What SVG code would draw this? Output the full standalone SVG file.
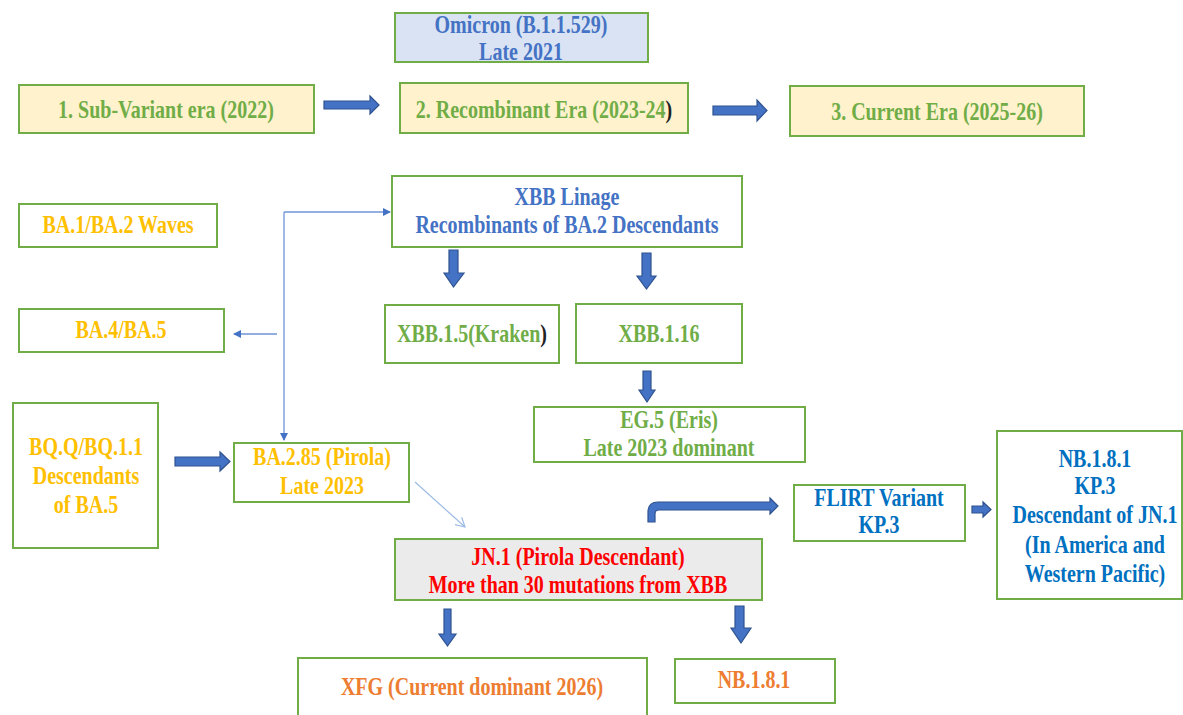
<svg xmlns="http://www.w3.org/2000/svg" width="1183" height="715" viewBox="0 0 1183 715">
<style>
.box{fill:#ffffff;stroke:#70ad47;stroke-width:2}
.era{fill:#fff2cc;stroke:#70ad47;stroke-width:2}
.t{font-family:"Liberation Serif","Times New Roman",serif;font-weight:bold;font-size:25px;text-anchor:middle}
.blue{fill:#4472c4}.green{fill:#70ad47}.orange{fill:#ffc000}.red{fill:#ff0000}.dblue{fill:#0070c0}.xfg{fill:#ed7d31}.blk{fill:#222222}
.barrow{fill:#4472c4;stroke:#2f528f;stroke-width:1.2}
.thin{fill:none;stroke:#6f94d6;stroke-width:1.3}
.thin2{fill:none;stroke:#9dbbe6;stroke-width:1.2}
</style>
<defs>
<marker id="ah" markerWidth="10" markerHeight="10" refX="8" refY="5" orient="auto" markerUnits="userSpaceOnUse">
<path d="M1,1 L9,5 L1,9 Z" fill="#4472c4"/>
</marker>
<marker id="ah2" markerWidth="12" markerHeight="12" refX="10" refY="6" orient="auto" markerUnits="userSpaceOnUse">
<path d="M1,1 L10,6 L1,11" fill="none" stroke="#9dbbe6" stroke-width="1.2"/>
</marker>
</defs>
<rect width="1183" height="715" fill="#ffffff"/>

<g id="omicron">
<rect x="395" y="13" width="253" height="49" fill="#dae3f3" stroke="#70ad47" stroke-width="2"/>
<text class="t blue" transform="translate(521,0) scale(0.8,1)" x="0" y="33">Omicron (B.1.1.529)</text>
<text class="t blue" transform="translate(521,0) scale(0.8,1)" x="0" y="60">Late 2021</text>
</g>

<g id="era1">
<rect class="era" x="19" y="85" width="295" height="48"/>
<text class="t green" transform="translate(166,0) scale(0.8,1)" x="0" y="118">1. Sub-Variant era (2022)</text>
</g>
<g id="era2">
<rect class="era" x="400" y="83" width="288" height="50"/>
<text class="t green" transform="translate(544,0) scale(0.8,1)" x="0" y="118">2. Recombinant Era (2023-24<tspan class="blk">)</tspan></text>
</g>
<g id="era3">
<rect class="era" x="790" y="86" width="294" height="50"/>
<text class="t green" transform="translate(937,0) scale(0.8,1)" x="0" y="120">3. Current Era (2025-26)</text>
</g>

<g id="ba12">
<rect class="box" x="19" y="204" width="198" height="43"/>
<text class="t orange" transform="translate(118,0) scale(0.8,1)" x="0" y="233">BA.1/BA.2 Waves</text>
</g>
<g id="ba45">
<rect class="box" x="19" y="309" width="205" height="43"/>
<text class="t orange" transform="translate(121,0) scale(0.8,1)" x="0" y="338">BA.4/BA.5</text>
</g>

<g id="xbb">
<rect class="box" x="392" y="176" width="350" height="71"/>
<text class="t blue" transform="translate(567,0) scale(0.8,1)" x="0" y="205">XBB Linage</text>
<text class="t blue" transform="translate(567,0) scale(0.8,1)" x="0" y="233">Recombinants of BA.2 Descendants</text>
</g>
<g id="xbb15">
<rect class="box" x="385" y="305" width="174" height="58"/>
<text class="t green" transform="translate(472,0) scale(0.8,1)" x="0" y="342">XBB.1.5(Kraken<tspan class="blk">)</tspan></text>
</g>
<g id="xbb116">
<rect class="box" x="576" y="304" width="166" height="59"/>
<text class="t green" transform="translate(659,0) scale(0.8,1)" x="0" y="342">XBB.1.16</text>
</g>
<g id="eg5">
<rect class="box" x="534" y="407" width="271" height="55"/>
<text class="t green" transform="translate(669,0) scale(0.8,1)" x="0" y="428">EG.5 (Eris)</text>
<text class="t green" transform="translate(669,0) scale(0.8,1)" x="0" y="456">Late 2023 dominant</text>
</g>

<g id="bqq">
<rect class="box" x="13" y="403" width="145" height="145"/>
<text class="t orange" transform="translate(86,0) scale(0.8,1)" x="0" y="455">BQ.Q/BQ.1.1</text>
<text class="t orange" transform="translate(86,0) scale(0.8,1)" x="0" y="484">Descendants</text>
<text class="t orange" transform="translate(86,0) scale(0.8,1)" x="0" y="513">of BA.5</text>
</g>
<g id="ba285">
<rect class="box" x="234" y="443" width="175" height="59"/>
<text class="t orange" transform="translate(322,0) scale(0.8,1)" x="0" y="465">BA.2.85 (Pirola)</text>
<text class="t orange" transform="translate(322,0) scale(0.8,1)" x="0" y="494">Late 2023</text>
</g>

<g id="jn1">
<rect x="395" y="539" width="367" height="61" fill="#ebebeb" stroke="#70ad47" stroke-width="2"/>
<text class="t red" transform="translate(578,0) scale(0.8,1)" x="0" y="565">JN.1 (Pirola Descendant)</text>
<text class="t red" transform="translate(578,0) scale(0.8,1)" x="0" y="593">More than 30 mutations from XBB</text>
</g>

<g id="flirt">
<rect class="box" x="794" y="485" width="171" height="56"/>
<text class="t dblue" transform="translate(879,0) scale(0.8,1)" x="0" y="506">FLIRT Variant</text>
<text class="t dblue" transform="translate(879,0) scale(0.8,1)" x="0" y="533">KP.3</text>
</g>
<g id="nb181big">
<rect class="box" x="997" y="431" width="185" height="168"/>
<text class="t dblue" transform="translate(1095,0) scale(0.8,1)" x="0" y="467">NB.1.8.1</text>
<text class="t dblue" transform="translate(1095,0) scale(0.8,1)" x="0" y="494">KP.3</text>
<text class="t dblue" transform="translate(1095,0) scale(0.8,1)" x="0" y="523">Descendant of JN.1</text>
<text class="t dblue" transform="translate(1095,0) scale(0.8,1)" x="0" y="553">(In America and</text>
<text class="t dblue" transform="translate(1095,0) scale(0.8,1)" x="0" y="582">Western Pacific)</text>
</g>

<g id="xfg">
<rect class="box" x="298" y="658" width="349" height="70"/>
<text class="t xfg" transform="translate(472,0) scale(0.8,1)" x="0" y="695">XFG (Current dominant 2026)</text>
</g>
<g id="nb181">
<rect class="box" x="675" y="659" width="160" height="44"/>
<text class="t xfg" transform="translate(754,0) scale(0.8,1)" x="0" y="688">NB.1.8.1</text>
</g>

<g id="connectors">
<path class="barrow" d="M324,101 L370,101 L370,96 L379,105 L370,114 L370,109 L324,109 Z"/>
<path class="barrow" d="M713,106 L757,106 L757,100 L767,110.5 L757,121 L757,115 L713,115 Z"/>
<path class="barrow" d="M175,457 L220,457 L220,452 L230,461.5 L220,471 L220,466 L175,466 Z"/>
<path class="barrow" d="M972,506 L983,506 L983,502 L991,509.5 L983,517 L983,513 L972,513 Z"/>
<path class="barrow" d="M648,522 L648,512 Q648,502 658,502 L770,502 L770,498 L778,506 L770,514 L770,510 L659,510 Q655,510 655,514 L655,522 Z"/>
<path class="barrow" d="M449,250 L458,250 L458,273 L464,273 L453.5,287 L444,273 L449,273 Z"/>
<path class="barrow" d="M642,253 L651,253 L651,276 L656,276 L646.5,289 L637,276 L642,276 Z"/>
<path class="barrow" d="M643,371 L651,371 L651,390 L655,390 L647,402 L639,390 L643,390 Z"/>
<path class="barrow" d="M444,609 L451,609 L451,634 L456,634 L447.5,646 L439,634 L444,634 Z"/>
<path class="barrow" d="M735,606 L744,606 L744,628 L751,628 L741,643 L731,628 L735,628 Z"/>
<path class="thin" d="M284,212 L390,212" marker-end="url(#ah)"/>
<path class="thin" d="M284,212 L284,440" marker-end="url(#ah)"/>
<path class="thin" d="M277,334 L234,334" marker-end="url(#ah)"/>
<path class="thin2" d="M415,482 L465,527" marker-end="url(#ah2)"/>
</g>
</svg>
